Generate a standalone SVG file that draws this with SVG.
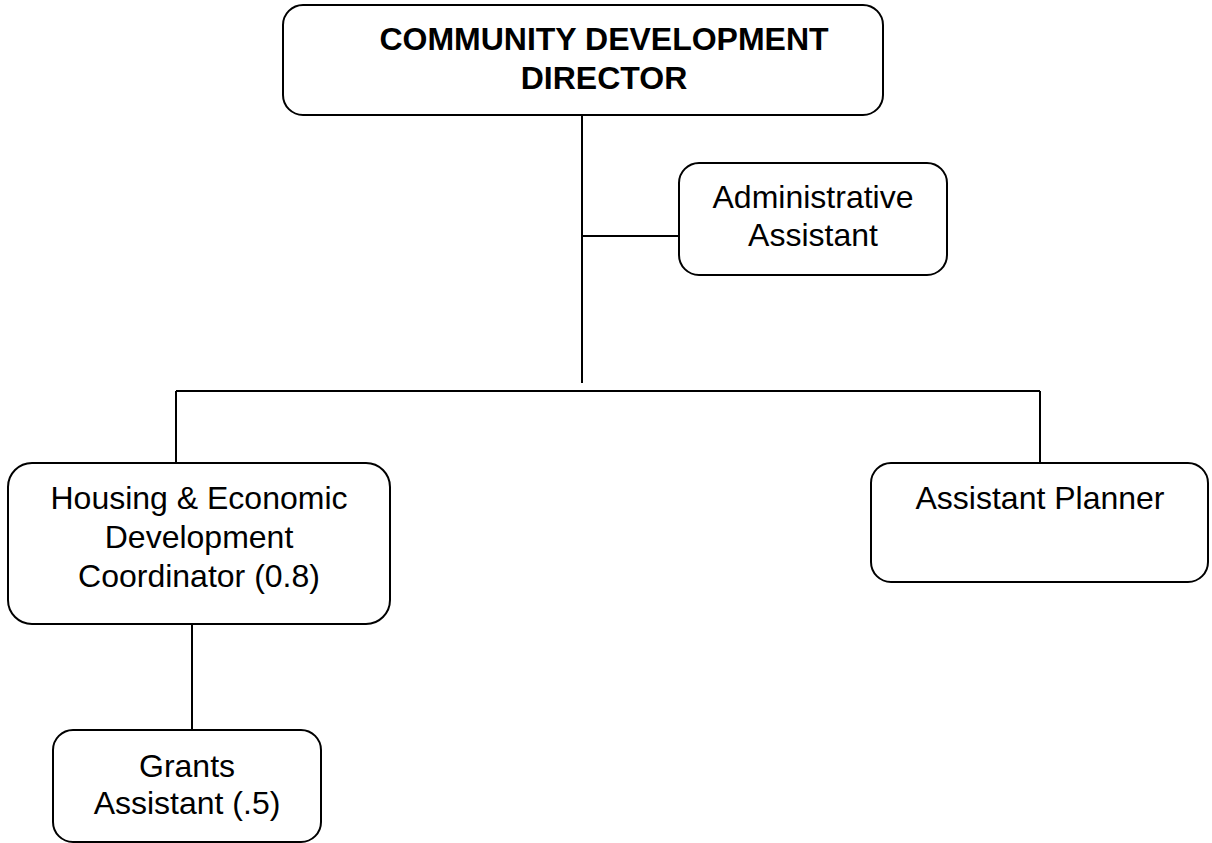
<svg xmlns="http://www.w3.org/2000/svg" width="1212" height="843" viewBox="0 0 1212 843">
<style>
.box{fill:#fff;stroke:#000;stroke-width:2}
.t{font-family:"Liberation Sans",Arial,sans-serif;font-size:32px;text-anchor:middle;fill:#000}
.b{font-weight:bold}
.c{stroke:#000;stroke-width:2;fill:none}
</style>
<rect width="1212" height="843" fill="#fff"/>
<g id="connectors">
<line class="c" x1="582" y1="115" x2="582" y2="383"/>
<line class="c" x1="582" y1="236" x2="679" y2="236"/>
<line class="c" x1="176" y1="391" x2="1040" y2="391"/>
<line class="c" x1="176" y1="391" x2="176" y2="463"/>
<line class="c" x1="1040" y1="391" x2="1040" y2="463"/>
<line class="c" x1="192" y1="624" x2="192" y2="730"/>
</g>
<g id="director">
<rect class="box" x="283" y="5" width="600" height="110" rx="20"/>
<text class="t b" x="604" y="50">COMMUNITY DEVELOPMENT</text>
<text class="t b" x="604" y="89">DIRECTOR</text>
</g>
<g id="admin">
<rect class="box" x="679" y="163" width="268" height="112" rx="20"/>
<text class="t" x="813" y="208">Administrative</text>
<text class="t" x="813" y="246">Assistant</text>
</g>
<g id="housing">
<rect class="box" x="8" y="463" width="382" height="161" rx="24"/>
<text class="t" x="199" y="509">Housing &amp; Economic</text>
<text class="t" x="199" y="548">Development</text>
<text class="t" x="199" y="587">Coordinator (0.8)</text>
</g>
<g id="planner">
<rect class="box" x="871" y="463" width="337" height="119" rx="20"/>
<text class="t" x="1040" y="509">Assistant Planner</text>
</g>
<g id="grants">
<rect class="box" x="53" y="730" width="268" height="112" rx="20"/>
<text class="t" x="187" y="777">Grants</text>
<text class="t" x="187" y="814">Assistant (.5)</text>
</g>
</svg>
